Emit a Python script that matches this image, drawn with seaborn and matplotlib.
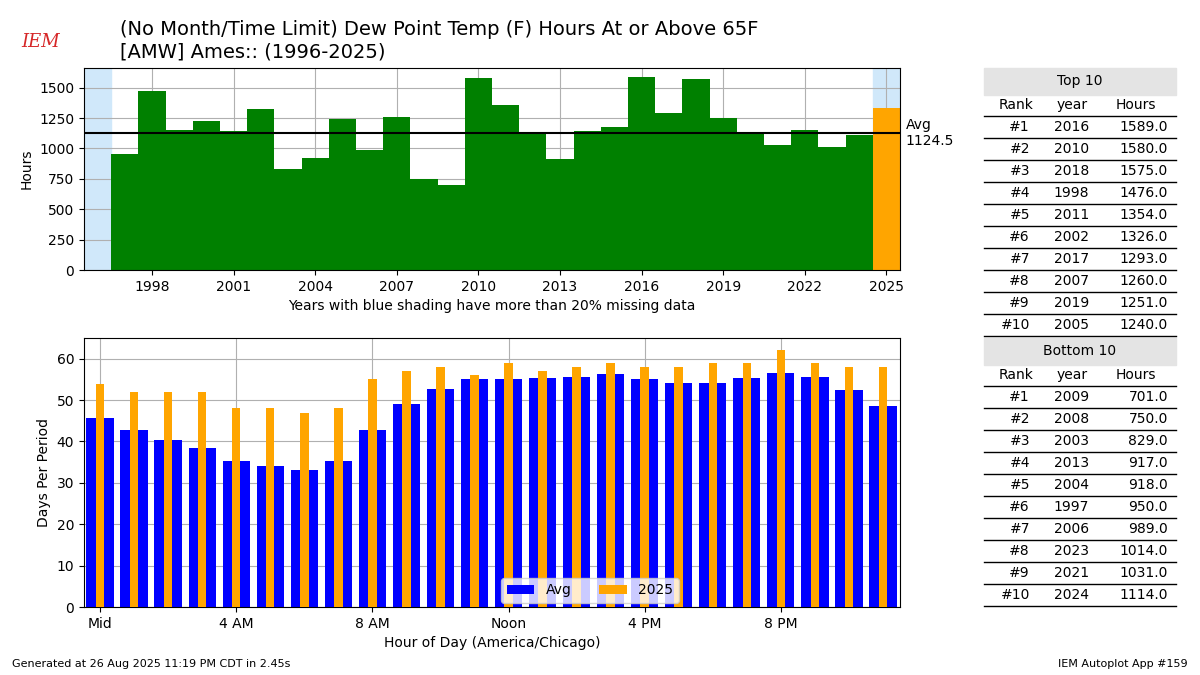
import matplotlib
matplotlib.use("Agg")
import matplotlib.pyplot as plt
import seaborn as sns
import pandas as pd

years = list(range(1996, 2026))
hours_total = [0, 950, 1476, 1150, 1225, 1140, 1326, 829, 918, 1240, 989, 1260, 750, 701,
               1580, 1354, 1130, 917, 1145, 1180, 1589, 1293, 1575, 1251, 1130, 1031,
               1150, 1014, 1114, 1335]
avg_total = 1124.5

hour_of_day = list(range(24))
avg_days = [45.7, 42.8, 40.4, 38.5, 35.3, 34.1, 33.2, 35.3, 42.8, 49.1, 52.7, 55.0,
            55.0, 55.3, 55.7, 56.2, 55.0, 54.2, 54.2, 55.4, 56.6, 55.7, 52.5, 48.6]
days_2025 = [54, 52, 52, 52, 48, 48, 47, 48, 55, 57, 58, 56, 59, 57, 58, 59, 58, 58,
             59, 59, 62, 59, 58, 58]
hour_ticks = [0, 4, 8, 12, 16, 20]
hour_labels = ["Mid", "4 AM", "8 AM", "Noon", "4 PM", "8 PM"]

top10 = [(2016, 1589.0), (2010, 1580.0), (2018, 1575.0), (1998, 1476.0), (2011, 1354.0),
         (2002, 1326.0), (2017, 1293.0), (2007, 1260.0), (2019, 1251.0), (2005, 1240.0)]
bottom10 = [(2009, 701.0), (2008, 750.0), (2003, 829.0), (2013, 917.0), (2004, 918.0),
            (1997, 950.0), (2006, 989.0), (2023, 1014.0), (2021, 1031.0), (2024, 1114.0)]

fig = plt.figure(figsize=(12, 6.75), dpi=100)

# ---- top: yearly totals
ax1 = fig.add_axes([0.07, 0.6, 0.68, 0.299])
df = pd.DataFrame({"year": years, "hours": hours_total,
                   "kind": ["cur" if y == 2025 else "past" for y in years]})
ax1.axvspan(1995.5, 1996.5, color="#d0e8fa", zorder=0)
ax1.axvspan(2024.5, 2025.5, color="#d0e8fa", zorder=0)
sns.barplot(data=df, x="year", y="hours", hue="kind", native_scale=True, width=1.0,
            dodge=False, palette={"past": "green", "cur": "orange"}, legend=False,
            saturation=1, ax=ax1, zorder=2)
ax1.axhline(avg_total, color="black", lw=1.5, zorder=3)
ax1.text(2025.7, avg_total, f"Avg\n{avg_total}", va="center", fontsize=10)
ax1.set_xlim(1995.5, 2025.5)
ax1.set_ylim(0, 1660)
ax1.set_xticks(range(1998, 2026, 3))
ax1.grid(True, zorder=1)
ax1.set_axisbelow(True)
ax1.set_ylabel("Hours")
ax1.set_xlabel("Years with blue shading have more than 20% missing data")

# ---- bottom: hour of day
ax2 = fig.add_axes([0.07, 0.1007, 0.68, 0.3985])
sns.barplot(x=hour_of_day, y=avg_days, native_scale=True, width=0.8, color="blue",
            saturation=1, label="Avg", ax=ax2, zorder=2)
sns.barplot(x=hour_of_day, y=days_2025, native_scale=True, width=0.25, color="orange",
            saturation=1, label="2025", ax=ax2, zorder=3)
ax2.set_xlim(-0.47, 23.5)
ax2.set_ylim(0, 65)
ax2.set_xticks(hour_ticks)
ax2.set_xticklabels(hour_labels)
ax2.grid(True)
ax2.set_axisbelow(True)
ax2.set_ylabel("Days Per Period")
ax2.set_xlabel("Hour of Day (America/Chicago)")
ax2.legend(loc="upper center", bbox_to_anchor=(0.62, 1.0), bbox_transform=fig.transFigure,
           ncol=2, fontsize=10)
ax2.get_legend().set_bbox_to_anchor((0.62, 0.062))
ax2.get_legend().set_loc("center")

# ---- tables
def draw_table(title, rows, top_px):
    W, H = 1200.0, 675.0
    x0, x1 = 984 / W, 1176 / W
    fig.patches.append(plt.Rectangle((x0, 1 - (top_px + 27) / H), x1 - x0, 27 / H,
                                     transform=fig.transFigure, color="#e4e4e4"))
    fig.text((x0 + x1) / 2, 1 - (top_px + 13) / H, title, ha="center", va="center", fontsize=10)
    y = top_px + 37
    fig.text(1016 / W, 1 - y / H, "Rank", ha="center", va="center", fontsize=10)
    fig.text(1072 / W, 1 - y / H, "year", ha="center", va="center", fontsize=10)
    fig.text(1136 / W, 1 - y / H, "Hours", ha="center", va="center", fontsize=10)
    for i, (yr, val) in enumerate(rows):
        fig.add_artist(plt.Line2D([x0, x1], [1 - (y + 11) / H] * 2, color="black", lw=1,
                                  transform=fig.transFigure))
        y += 22
        fig.text(1030 / W, 1 - y / H, f"#{i + 1}", ha="right", va="center", fontsize=10)
        fig.text(1089 / W, 1 - y / H, str(yr), ha="right", va="center", fontsize=10)
        fig.text(1168 / W, 1 - y / H, f"{val:.1f}", ha="right", va="center", fontsize=10)
    fig.add_artist(plt.Line2D([x0, x1], [1 - (y + 11) / H] * 2, color="black", lw=1,
                              transform=fig.transFigure))

draw_table("Top 10", top10, 68)
draw_table("Bottom 10", bottom10, 338)

fig.text(0.1, 0.94, "(No Month/Time Limit) Dew Point Temp (F) Hours At or Above 65F\n"
         "[AMW] Ames:: (1996-2025)", fontsize=14, va="center")
fig.text(0.018, 0.93, "IEM", color="#d62728", fontsize=13, style="italic", family="serif")
fig.text(0.01, 0.012, "Generated at 26 Aug 2025 11:19 PM CDT in 2.45s", fontsize=8)
fig.text(0.99, 0.012, "IEM Autoplot App #159", fontsize=8, ha="right")

fig.savefig("out.png", dpi=100)
